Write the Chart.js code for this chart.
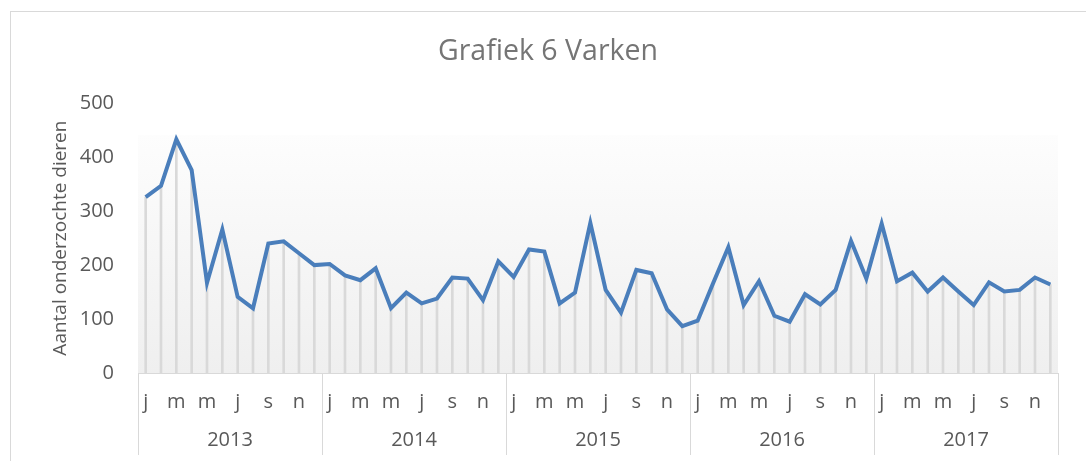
<!DOCTYPE html>
<html>
<head>
<meta charset="utf-8">
<title>Grafiek 6 Varken</title>
<script src="https://cdn.jsdelivr.net/npm/chart.js@4.4.0/dist/chart.umd.min.js"></script>
<style>
  html, body { margin: 0; padding: 0; background: #fff; }
  #wrap { position: relative; width: 1086px; height: 461px; overflow: hidden; }
  #frame { position: absolute; left: 10px; top: 11px; width: 1100px; height: 500px;
           border-left: 1px solid #d9d9d9; border-top: 1px solid #d9d9d9; }
  canvas { position: absolute; left: 0; top: 0; }
</style>
</head>
<body>
<div id="wrap">
  <div id="frame"></div>
  <canvas id="lineChart" width="1086" height="461"></canvas>
</div>
<script>
var years = ['2013', '2014', '2015', '2016', '2017'];
var months = ['j', 'f', 'm', 'a', 'm', 'j', 'j', 'a', 's', 'o', 'n', 'd'];

// aantal onderzochte dieren per maand
var v2013 = [326, 347, 433, 376, 167, 266, 141, 120, 240, 244, 222, 200];
var v2014 = [202, 181, 172, 194, 120, 149, 129, 138, 177, 175, 135, 207];
var v2015 = [178, 229, 225, 129, 149, 278, 154, 112, 191, 185, 118, 87];
var v2016 = [97, 166, 233, 126, 170, 106, 95, 146, 127, 154, 245, 175];
var v2017 = [277, 170, 186, 151, 177, 151, 126, 168, 151, 154, 177, 164];

var yMin = 0, yMax = 500, yStep = 100;

var labels = [];
years.forEach(function() { labels = labels.concat(months); });
var values = [].concat(v2013, v2014, v2015, v2016, v2017);

var font = "'Open Sans', 'Noto Sans', sans-serif";
var grey = '#595959';
var lineColor = '#d9d9d9';

// light grey gradient behind the plot
var plotFill = {
  id: 'plotFill',
  beforeDraw: function(chart) {
    var a = chart.chartArea, c = chart.ctx;
    var top = a.top + 32;
    var g = c.createLinearGradient(0, top, 0, a.bottom);
    g.addColorStop(0, '#fdfdfd');
    g.addColorStop(1, '#efefef');
    c.save();
    c.fillStyle = g;
    c.fillRect(a.left, top, a.right - a.left, a.bottom - top);
    c.restore();
  }
};

var ctx = document.getElementById('lineChart').getContext('2d');

new Chart(ctx, {
  data: {
    labels: labels,
    datasets: [{
      type: 'line',
      label: 'Varken',
      data: values,
      borderColor: '#4a7ebb',
      borderWidth: 4,
      pointRadius: 0,
      tension: 0,
      order: 0
    }, {
      type: 'bar',
      label: 'drop',
      data: values,
      backgroundColor: '#d9d9d9',
      barThickness: 2,
      order: 1
    }]
  },
  options: {
    responsive: false,
    animation: false,
    layout: { padding: { left: 38, right: 28, top: 0, bottom: 0 } },
    scales: {
      x: {
        offset: true,
        border: { display: true, color: lineColor },
        grid: {
          offset: true,
          drawOnChartArea: false,
          drawTicks: true,
          tickLength: 50,
          color: function(c) {
            return (c.index === undefined || c.index % 12 === 0) ? lineColor : 'rgba(0,0,0,0)';
          }
        },
        ticks: {
          autoSkip: false,
          maxRotation: 0,
          padding: -33,
          color: grey,
          font: { family: font, size: 20 },
          callback: function(v, i) { return i % 2 === 0 ? this.getLabelForValue(v) : ''; }
        },
        afterFit: function(s) { s.height = 50; }
      },
      x2: {
        type: 'category',
        labels: years,
        offset: true,
        position: 'bottom',
        border: { display: false },
        grid: {
          offset: true,
          drawOnChartArea: false,
          drawTicks: true,
          tickLength: 32,
          color: lineColor
        },
        ticks: {
          padding: -27,
          color: grey,
          font: { family: font, size: 20 }
        },
        afterFit: function(s) { s.height = 38; }
      },
      y: {
        min: yMin,
        max: yMax,
        border: { display: false },
        grid: { display: false, drawTicks: false },
        ticks: {
          stepSize: yStep,
          padding: 24,
          color: grey,
          font: { family: font, size: 20 }
        },
        title: {
          display: true,
          text: 'Aantal onderzochte dieren',
          color: grey,
          padding: { top: 11, bottom: 0 },
          font: { family: font, size: 19 }
        },
        afterFit: function(s) { s.width = 100; }
      }
    },
    plugins: {
      legend: { display: false },
      tooltip: { enabled: false },
      title: {
        display: true,
        text: 'Grafiek 6 Varken',
        color: '#757575',
        padding: { top: 35, bottom: 34 },
        font: { family: font, size: 28.5, weight: 'normal' }
      }
    }
  },
  plugins: [plotFill]
});
</script>
</body>
</html>
